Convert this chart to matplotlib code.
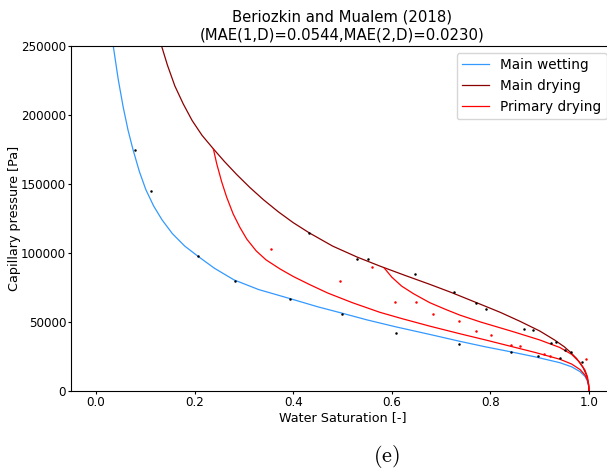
import matplotlib
matplotlib.use("Agg")
import matplotlib.pyplot as plt

# ---- data ----
wet_s = [0.035, 0.045, 0.055, 0.065, 0.075, 0.088, 0.101, 0.117, 0.134, 0.155, 0.18, 0.207, 0.24, 0.28,
         0.33, 0.394, 0.45, 0.498, 0.55, 0.608, 0.677, 0.738, 0.79, 0.84, 0.89, 0.941, 0.965, 0.982,
         0.992, 0.997, 0.9995, 1.0]
wet_p = [250000, 226000, 206000, 189000, 175000, 159000, 146000, 134000, 124000, 114000, 105000, 97600,
         89000, 80500, 73500, 66900, 61000, 56500, 51500, 46500, 41000, 36000, 32000, 28500, 24800,
         20500, 17500, 14000, 10500, 7000, 3000, 0]

dry_s = [0.133, 0.145, 0.16, 0.177, 0.195, 0.215, 0.238, 0.26, 0.285, 0.312, 0.34, 0.37, 0.40, 0.433,
         0.48, 0.53, 0.576, 0.625, 0.677, 0.72, 0.772, 0.82, 0.86, 0.90, 0.93, 0.95, 0.961, 0.975,
         0.988, 0.995, 0.999, 1.0]
dry_p = [250000, 236000, 221000, 208000, 196000, 185300, 175500, 166500, 157000, 147500, 138500, 129800,
         122000, 114500, 105000, 97000, 90500, 84000, 77300, 71500, 64000, 57000, 50500, 43500, 37000,
         32000, 28500, 23500, 17000, 11500, 5000, 0]

prim1_s = [0.238, 0.245, 0.255, 0.265, 0.278, 0.292, 0.306, 0.325, 0.345, 0.373, 0.40, 0.434, 0.47,
           0.52, 0.576, 0.62, 0.677, 0.738, 0.79, 0.84, 0.89, 0.941, 0.965, 0.982, 0.992, 0.997,
           0.9995, 1.0]
prim1_p = [175500, 164500, 151500, 140500, 128500, 118500, 110000, 101500, 95000, 88500, 83000, 77000,
           71000, 64000, 57000, 52500, 47000, 41500, 37000, 32500, 28000, 23000, 19500, 15500, 11500,
           8000, 3500, 0]

prim2_s = [0.585, 0.60, 0.62, 0.644, 0.677, 0.71, 0.738, 0.78, 0.846, 0.9, 0.941, 0.965, 0.982, 0.992,
           0.997, 0.9995, 1.0]
prim2_p = [89000, 82500, 76000, 70500, 64000, 59000, 55000, 50000, 43000, 37000, 31500, 26500, 20500,
           15000, 10000, 4500, 0]

obs_main_s = [0.079, 0.112, 0.207, 0.281, 0.394, 0.498, 0.608, 0.737, 0.841, 0.897, 0.941,
              0.433, 0.530, 0.552, 0.647, 0.726, 0.771, 0.791, 0.869, 0.886, 0.923, 0.934, 0.951, 0.963, 0.986]
obs_main_p = [174900, 144900, 97600, 79500, 66900, 55800, 42000, 34300, 28000, 25400, 23700,
              114700, 95600, 95600, 85000, 72000, 64000, 59400, 45200, 44200, 35000, 35500, 29500, 28500, 21000]

obs_prim_s = [0.355, 0.494, 0.559, 0.606, 0.649, 0.684, 0.736, 0.770, 0.801, 0.841, 0.860, 0.909, 0.921, 0.994]
obs_prim_p = [102700, 80000, 90100, 64700, 64300, 55800, 50900, 43700, 40800, 33300, 32800, 27000, 25400, 23200]

title = "Beriozkin and Mualem (2018)\n(MAE(1,D)=0.0544,MAE(2,D)=0.0230)"

# ---- figure ----
W, H = 607, 472
fig = plt.figure(figsize=(W / 100, H / 100), dpi=100)
left, right, top, bottom = 71.35, 613.65, 46, 391
ax = fig.add_axes([left / W, 1 - bottom / H, (right - left) / W, (bottom - top) / H])

blue = "#3399ff"
lw = 0.9
ax.plot(wet_s, wet_p, color=blue, lw=lw, label="Main wetting")
ax.plot(dry_s, dry_p, color="darkred", lw=lw, label="Main drying")
ax.plot(prim1_s, prim1_p, color="red", lw=lw, label="Primary drying")
ax.plot(prim2_s, prim2_p, color="red", lw=lw)
ax.plot(obs_main_s, obs_main_p, "o", color="black", ms=1.8, mew=0)
ax.plot(obs_prim_s, obs_prim_p, "o", color="red", ms=1.8, mew=0)

ax.set_xlim(-0.05, 1.05)
ax.set_ylim(0, 250000)
ax.set_xticks([0.0, 0.2, 0.4, 0.6, 0.8, 1.0])
ax.set_yticks([0, 50000, 100000, 150000, 200000, 250000])
ax.tick_params(labelsize=8.6, length=2.4, width=0.8, pad=1.3)
for sp in ax.spines.values():
    sp.set_linewidth(0.8)
ax.set_xlabel("Water Saturation [-]", fontsize=9.2, labelpad=1.5)
ax.set_ylabel("Capillary pressure [Pa]", fontsize=9.2)
ax.yaxis.set_label_coords((21 - left) / (right - left), 0.5)
ax.set_title(title, fontsize=10.7, pad=5)
ax.legend(loc="upper right", fontsize=9.8, handlelength=2.0)

fig.text(386 / W, 1 - 456 / H, r"$\mathrm{(e)}$", fontsize=16, ha="center", va="center",
         math_fontfamily="cm")

fig.savefig("out.png", dpi=100)
